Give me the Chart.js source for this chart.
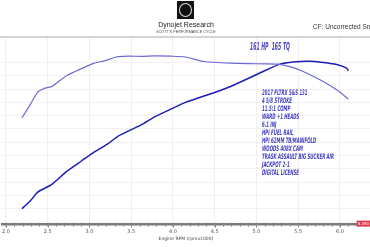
<!DOCTYPE html>
<html>
<head>
<meta charset="utf-8">
<script src="https://cdn.jsdelivr.net/npm/chart.js@4"></script>
<style>
  body { margin: 0; background: #fff; }
  #wrap { position: relative; width: 370px; height: 247px; overflow: hidden; background: #fff; font-family: "Liberation Sans", sans-serif; }
  #wrap canvas { position: absolute; left: 0; top: 0; }
  .hdr-line { position: absolute; left: 0; top: 36px; width: 370px; height: 2px; background: #d4d4d4; }
  .logo { position: absolute; left: 177px; top: 1px; width: 17px; height: 18px; background: #111; }
  .logo span { position: absolute; left: 2px; top: 2px; width: 11px; height: 12px; border: 1px solid #ddd; border-radius: 50%; }
  .brand { position: absolute; left: 140px; top: 21px; width: 92px; text-align: center; font-size: 7px; color: #222; }
  .sub { position: absolute; left: 140px; top: 30px; width: 92px; text-align: center; font-size: 3.6px; color: #444; letter-spacing: 0.1px; }
  .cf { position: absolute; left: 313px; top: 23px; font-size: 6.5px; color: #333; white-space: nowrap; }
  .peak { position: absolute; left: 250px; top: 40px; font: italic bold 10.5px "DejaVu Sans Condensed", sans-serif; color: #4a47c4; white-space: nowrap; transform-origin: left top; }
  .notes { position: absolute; left: 262px; top: 88.5px; font: italic bold 7.6px "DejaVu Sans Condensed", sans-serif; line-height: 8px; color: #4340c2; white-space: nowrap; transform-origin: left top; }
</style>
</head>
<body>
<div id="wrap">
  <canvas id="dyno" width="370" height="247"></canvas>
  <div class="hdr-line"></div>
  <div class="logo"><span></span></div>
  <div class="brand">Dynojet Research</div>
  <div class="sub">SCOTT'S PERFORMANCE CYCLE</div>
  <div class="cf">CF: Uncorrected Smoothing 5</div>
  <div class="peak" id="peak">161 HP&nbsp;&nbsp;165 TQ</div>
  <div class="notes" id="notes"></div>
</div>
<script>
// rpm x 1000
const rpmTq = [2.19, 2.29, 2.38, 2.47, 2.55, 2.63, 2.73, 2.87, 3.06, 3.18, 3.32, 3.46, 3.62, 3.78, 3.98, 4.15, 4.37, 4.69, 5.09, 5.25, 5.40, 5.56, 5.76, 5.96, 6.10];
const torque = [118.3, 128.3, 137.8, 140.8, 142.0, 145.8, 150.3, 154.5, 159.6, 161.3, 164.2, 164.8, 164.7, 165.0, 164.8, 164.2, 160.8, 159.6, 159.0, 158.8, 157.0, 153.3, 147.0, 139.5, 132.6];

const rpmHp = [2.19, 2.29, 2.38, 2.55, 2.73, 2.90, 3.06, 3.22, 3.34, 3.50, 3.62, 3.78, 3.98, 4.15, 4.49, 4.69, 5.08, 5.29, 5.44, 5.64, 5.80, 5.96, 6.08, 6.10];
const power = [50.0, 55.7, 62.5, 68.3, 78.2, 85.7, 92.8, 98.8, 104.5, 109.5, 113.1, 119.1, 125.1, 130.0, 137.3, 142.0, 153.3, 159.0, 160.5, 161.0, 160.0, 158.5, 155.8, 153.8];

const rpmTicks = [2.0, 2.5, 3.0, 3.5, 4.0, 4.5, 5.0, 5.5, 6.0];
const notes = ['2017 FLTRX S&S 131', '4 5/8 STROKE', '11.5:1 COMP', 'WARD +1 HEADS', '6.1 INJ', 'HPI FUEL RAIL',
  'HPI 62MM TB/MANIFOLD', 'WOODS 408X CAM', 'TRASK ASSAULT BIG SUCKER AIR', 'JACKPOT 2-1', 'DIGITAL LICENSE'];

// notes block, squeezed to the narrow look of the original
const notesEl = document.getElementById('notes');
notesEl.innerHTML = notes.map(n => n.replace(/&/g, '&amp;')).join('<br>');
notesEl.style.transform = 'scaleX(' + (72 / notesEl.offsetWidth) + ')';
const peakEl = document.getElementById('peak');
peakEl.style.transform = 'scaleX(' + (40 / peakEl.offsetWidth) + ')';

const minorTicks = {
  id: 'minorTicks',
  afterDraw(chart) {
    const { ctx, scales: { x }, chartArea } = chart;
    ctx.save();
    ctx.strokeStyle = '#888';
    ctx.lineWidth = 1;
    for (let i = 20; i <= 63; i++) {
      const px = Math.round(x.getPixelForValue(i / 10)) + 0.5;
      ctx.beginPath();
      ctx.moveTo(px, chartArea.bottom - 2);
      ctx.lineTo(px, chartArea.bottom + (i % 5 === 0 ? 3 : 2));
      ctx.stroke();
    }
    // red cursor tag at right end of the axis
    const left = x.getPixelForValue(6.2);
    ctx.fillStyle = '#d83a4c';
    ctx.fillRect(left, chartArea.bottom - 4, chart.width - left, 6);
    ctx.fillStyle = '#fff';
    ctx.font = '4px "DejaVu Sans"';
    ctx.textBaseline = 'middle';
    ctx.fillText('6.350', left + 1, chartArea.bottom - 1);
    ctx.restore();
  }
};

new Chart(document.getElementById('dyno'), {
  type: 'line',
  data: {
    datasets: [
      {
        label: 'Torque',
        data: rpmTq.map((r, i) => ({ x: r, y: torque[i] })),
        borderColor: '#6d69d6',
        borderWidth: 1.2,
        pointRadius: 0,
        tension: 0.2
      },
      {
        label: 'Power',
        data: rpmHp.map((r, i) => ({ x: r, y: power[i] })),
        borderColor: '#1c1cb6',
        borderWidth: 1.5,
        pointRadius: 0,
        tension: 0.2
      }
    ]
  },
  options: {
    responsive: false,
    animation: false,
    layout: { padding: { top: 38, left: 0, right: 0, bottom: 5 } },
    plugins: { legend: { display: false }, tooltip: { enabled: false } },
    scales: {
      x: {
        type: 'linear',
        min: 1.95,
        max: 6.36,
        afterBuildTicks: s => { s.ticks = rpmTicks.map(v => ({ value: v })); },
        ticks: {
          font: { size: 5, family: 'DejaVu Sans' },
          color: '#555',
          padding: 2,
          maxRotation: 0,
          callback: v => v.toFixed(1)
        },
        grid: { color: '#efefef', tickLength: 2, tickColor: '#888' },
        border: { color: '#7a7a7a', width: 2.5 },
        title: {
          display: true,
          text: 'Engine RPM (rpmx1000)',
          font: { size: 4.5, family: 'DejaVu Sans' },
          color: '#444',
          padding: 0
        }
      },
      y: {
        min: 38,
        max: 178.5,
        afterBuildTicks: s => { s.ticks = s.ticks.filter(t => t.value % 10 === 0); },
        afterFit: s => { s.width = 0; },
        ticks: { display: false, stepSize: 10 },
        grid: { color: '#f0f0f5', drawTicks: false },
        border: { display: false }
      }
    }
  },
  plugins: [minorTicks]
});
</script>
</body>
</html>
